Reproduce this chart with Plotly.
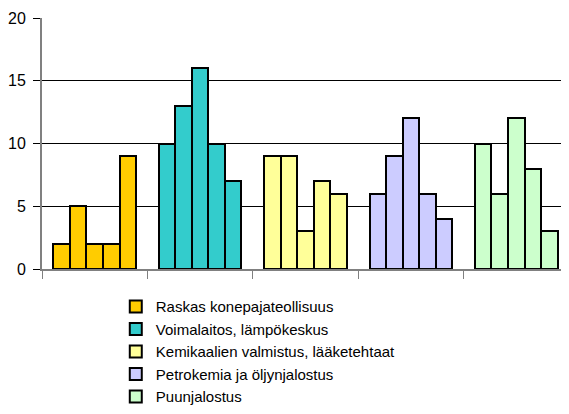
import plotly.graph_objects as go

# sarjat (yksi ryhmä per sarja)
series_names = ["Raskas konepajateollisuus", "Voimalaitos, lämpökeskus",
                "Kemikaalien valmistus, lääketehtaat", "Petrokemia ja öljynjalostus",
                "Puunjalostus"]
series_colors = ["#FFCC00", "#33CCCC", "#FFFF99", "#CCCCFF", "#CCFFCC"]

raskas = [2, 5, 2, 2, 9]
voimalaitos = [10, 13, 16, 10, 7]
kemikaalit = [9, 9, 3, 7, 6]
petrokemia = [6, 9, 12, 6, 4]
puunjalostus = [10, 6, 12, 8, 3]

y_ticks = [0, 5, 10, 15, 20]

all_values = [raskas, voimalaitos, kemikaalit, petrokemia, puunjalostus]

bar_w = 0.157
fig = go.Figure()
for i, (name, color, vals) in enumerate(zip(series_names, series_colors, all_values)):
    xs = [i + 0.5 + (j - 2) * bar_w for j in range(len(vals))]
    fig.add_trace(go.Bar(x=xs, y=vals, width=bar_w, name=name,
                         marker=dict(color=color, line=dict(color="black", width=2))))

# sivun oletusmarginaali (8px) huomioitu
fig.update_layout(
    width=561, height=406,
    margin=dict(l=34, r=0, t=10, b=145),
    plot_bgcolor="white", paper_bgcolor="white",
    font=dict(family="Liberation Sans, Arial", color="black"),
    showlegend=True,
    legend=dict(x=0.14, y=-0.085, xanchor="left", yanchor="top",
                font=dict(size=15), tracegroupgap=0, itemwidth=30),
    bargap=0,
)
fig.update_xaxes(range=[0, 5], tickvals=[0, 1, 2, 3, 4, 5], showticklabels=False,
                 ticks="outside", ticklen=8, tickcolor="#808080",
                 showline=True, linecolor="#808080", linewidth=2,
                 showgrid=False, zeroline=False, automargin=False)
fig.update_yaxes(range=[0, 20], tickvals=y_ticks, ticks="outside", ticklen=7,
                 tickcolor="black", showline=True, linecolor="#808080", linewidth=2,
                 showgrid=True, gridcolor="black", gridwidth=1, zeroline=False,
                 tickfont=dict(size=16), ticklabelstandoff=4, automargin=False)

fig.write_html("out.html")
